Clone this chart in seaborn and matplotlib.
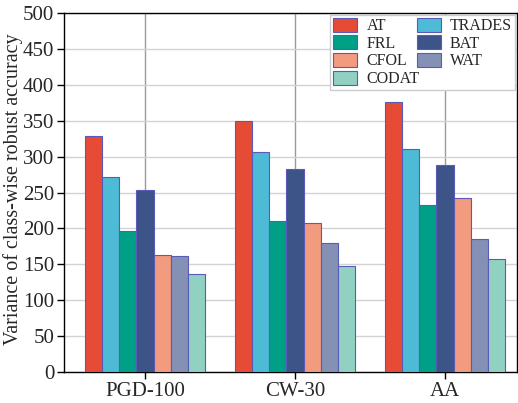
import numpy as np
import pandas as pd
import matplotlib
matplotlib.use('Agg')
import matplotlib.pyplot as plt
import seaborn as sns

attacks = ['PGD-100', 'CW-30', 'AA']
methods = ['AT', 'TRADES', 'FRL', 'BAT', 'CFOL', 'WAT', 'CODAT']
colors = ['#E64B35', '#4DBBD5', '#00A087', '#3C5488', '#F39B7F', '#8491B4', '#91D1C2']

at = [328, 349, 376]
trades = [272, 307, 311]
frl = [197, 211, 233]
bat = [254, 283, 288]
cfol = [163, 207, 242]
wat = [162, 180, 185]
codat = [136, 147, 157]

values = [at, trades, frl, bat, cfol, wat, codat]
rows = []
for m, vals in zip(methods, values):
    for a, v in zip(attacks, vals):
        rows.append({'attack': a, 'method': m, 'variance': v})
df = pd.DataFrame(rows)

sns.set_style('white')
plt.rcParams['font.family'] = ['Liberation Serif', 'DejaVu Serif']

fig = plt.figure(figsize=(5.18, 4.03), dpi=100)
ax = fig.add_axes([64 / 518, 31 / 403, 453 / 518, 359 / 403])

sns.barplot(data=df, x='attack', y='variance', hue='method', order=attacks,
            hue_order=methods, palette=colors, width=0.8, ax=ax,
            edgecolor='#5a5ab8', linewidth=0.8, saturation=1, zorder=3)

ax.set_ylim(0, 500)
ax.set_yticks(np.arange(0, 501, 50))
ax.set_xlim(-0.54, 2.48)
ax.yaxis.grid(True, color='#d3d3d3', linewidth=1.0, zorder=0)
ax.xaxis.grid(True, color='#9a9a9a', linewidth=1.0, zorder=0)
ax.set_axisbelow(True)
for s in ax.spines.values():
    s.set_color('black')
    s.set_linewidth(1.0)
ax.tick_params(axis='both', direction='out', length=5, width=1, color='black',
               labelsize=15, left=True, bottom=True, pad=2)
ax.set_xlabel('')
ax.set_ylabel('Variance of class-wise robust accuracy', fontsize=14.5)
ax.yaxis.set_label_coords(-0.09, 0.51)

handles, labels = ax.get_legend_handles_labels()
order = [0, 2, 4, 6, 1, 3, 5]
ax.legend([handles[i] for i in order], [labels[i] for i in order],
          ncol=2, loc='upper right', fontsize=11.5, frameon=True,
          fancybox=False, edgecolor='#cccccc', framealpha=1,
          handlelength=1.5, handleheight=0.95, columnspacing=-0.2,
          labelspacing=0.08, borderpad=0.2, handletextpad=0.6,
          borderaxespad=0.1)

fig.savefig('out.png', dpi=100)
